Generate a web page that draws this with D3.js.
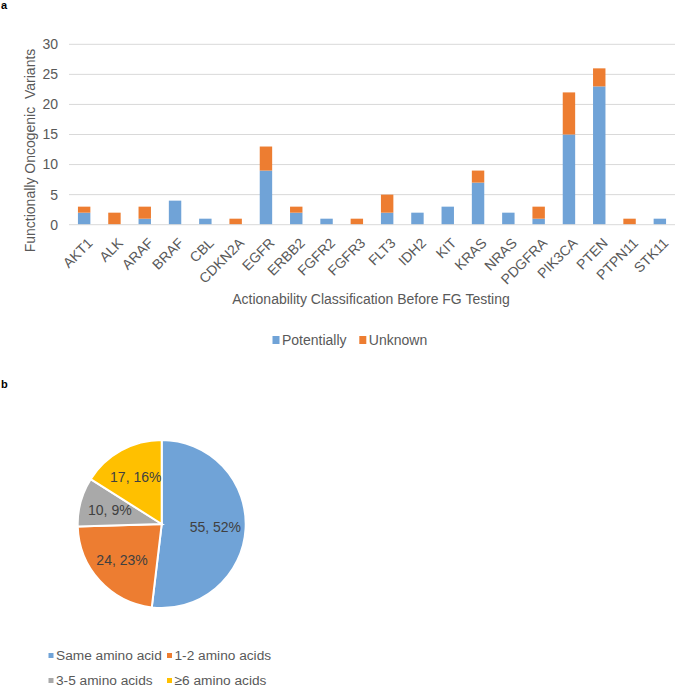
<!DOCTYPE html>
<html>
<head>
<meta charset="utf-8">
<script src="https://cdn.jsdelivr.net/npm/d3@7"></script>
<style>
  body { margin: 0; background: #fff; }
  svg { display: block; font-family: "Liberation Sans", Arial, sans-serif; }
</style>
</head>
<body>
<svg id="fig" width="675" height="687"></svg>
<script>
"use strict";

// panel a data
var genes = ["AKT1", "ALK", "ARAF", "BRAF", "CBL", "CDKN2A", "EGFR", "ERBB2", "FGFR2", "FGFR3",
  "FLT3", "IDH2", "KIT", "KRAS", "NRAS", "PDGFRA", "PIK3CA", "PTEN", "PTPN11", "STK11"];
var potentially = [2, 0, 1, 4, 1, 0, 9, 2, 1, 0, 2, 2, 3, 7, 2, 1, 15, 23, 0, 1];
var unknown = [1, 2, 2, 0, 0, 1, 4, 1, 0, 1, 3, 0, 0, 2, 0, 2, 7, 3, 1, 0];
var seriesNames = ["Potentially", "Unknown"];
var yTicks = [0, 5, 10, 15, 20, 25, 30];

// panel b data
var pieLabels = ["Same amino acid", "1-2 amino acids", "3-5 amino acids", "\u22656 amino acids"];
var pieCounts = [55, 24, 10, 17];
var piePercents = [52, 23, 9, 16];

var BLUE = "#70a3d7";
var ORANGE = "#ed7d31";
var GREY = "#a9a9a9";
var YELLOW = "#ffc000";
var TEXT = "#595959";
var FONT = 14;

var svg = d3.select("#fig");

svg.append("text").attr("x", 1).attr("y", 9)
  .attr("font-weight", "bold").attr("font-size", 11).attr("fill", "#000").text("a");
svg.append("text").attr("x", 1).attr("y", 388)
  .attr("font-weight", "bold").attr("font-size", 11).attr("fill", "#000").text("b");

drawBars();
drawPie();

function drawBars() {
  var left = 69, right = 675, top = 44.3, bottom = 224.7;
  var x = d3.scaleBand().domain(genes).range([left, right]).paddingInner(0.59).paddingOuter(0.295);
  var y = d3.scaleLinear().domain([0, 30]).range([bottom, top]);

  var rows = genes.map(function (g, i) { return { gene: g, Potentially: potentially[i], Unknown: unknown[i] }; });
  var stacked = d3.stack().keys(seriesNames)(rows);
  var colors = d3.scaleOrdinal().domain(seriesNames).range([BLUE, ORANGE]);

  // gridlines
  svg.append("g")
    .selectAll("line")
    .data(yTicks.slice(1))
    .enter()
    .append("line")
    .attr("x1", left).attr("x2", right)
    .attr("y1", function (d) { return y(d); })
    .attr("y2", function (d) { return y(d); })
    .attr("stroke", "#d9d9d9").attr("stroke-width", 1);

  svg.append("g")
    .selectAll("g")
    .data(stacked)
    .enter()
    .append("g")
    .attr("fill", function (d) { return colors(d.key); })
    .selectAll("rect")
    .data(function (d) { return d.filter(function (v) { return v[1] > v[0]; }); })
    .enter()
    .append("rect")
    .attr("x", function (d) { return x(d.data.gene); })
    .attr("width", x.bandwidth())
    .attr("y", function (d) { return y(d[1]); })
    .attr("height", function (d) { return y(d[0]) - y(d[1]); });

  // baseline
  svg.append("line")
    .attr("x1", left).attr("x2", right)
    .attr("y1", y(0)).attr("y2", y(0))
    .attr("stroke", "#d9d9d9").attr("stroke-width", 1);

  // y tick labels
  svg.append("g")
    .selectAll("text")
    .data(yTicks)
    .enter()
    .append("text")
    .attr("x", 58)
    .attr("y", function (d) { return y(d); })
    .attr("dy", "0.35em")
    .attr("text-anchor", "end")
    .attr("font-size", FONT)
    .attr("fill", TEXT)
    .text(function (d) { return d; });

  // x tick labels, rotated
  svg.append("g")
    .selectAll("text")
    .data(genes)
    .enter()
    .append("text")
    .attr("transform", function (d) {
      return "translate(" + (x(d) + x.bandwidth() / 2 + 6) + "," + 240.5 + ") rotate(-45)";
    })
    .attr("text-anchor", "end")
    .attr("dy", "0.35em")
    .attr("font-size", FONT)
    .attr("fill", TEXT)
    .text(function (d) { return d; });

  svg.append("text")
    .attr("transform", "translate(35,150.5) rotate(-90)")
    .attr("text-anchor", "middle")
    .attr("font-size", FONT)
    .attr("fill", TEXT)
    .style("white-space", "pre")
    .text("Functionally Oncogenic  Variants");

  svg.append("text")
    .attr("x", 371).attr("y", 299)
    .attr("dy", "0.35em")
    .attr("text-anchor", "middle")
    .attr("font-size", FONT)
    .attr("fill", TEXT)
    .text("Actionability Classification Before FG Testing");

  // legend
  var legend = svg.append("g")
    .selectAll("g")
    .data(seriesNames)
    .enter()
    .append("g")
    .attr("transform", function (d, i) { return "translate(" + [272.5, 359.3][i] + ",340)"; });
  legend.append("rect")
    .attr("x", 0).attr("y", -4).attr("width", 7).attr("height", 8)
    .attr("fill", function (d) { return colors(d); });
  legend.append("text")
    .attr("x", 9.5).attr("dy", "0.35em")
    .attr("font-size", FONT)
    .attr("fill", TEXT)
    .text(function (d) { return d; });
}

function drawPie() {
  var cx = 161.7, cy = 524, radius = 84;
  var colors = [BLUE, ORANGE, GREY, YELLOW];
  var pie = d3.pie().sort(null).value(function (d) { return d; });
  var arcs = pie(pieCounts);
  var arc = d3.arc().innerRadius(0).outerRadius(radius);
  var labelArc = d3.arc().innerRadius(radius * 0.64).outerRadius(radius * 0.64);

  var g = svg.append("g").attr("transform", "translate(" + cx + "," + cy + ")");
  g.selectAll("path")
    .data(arcs)
    .enter()
    .append("path")
    .attr("d", arc)
    .attr("fill", function (d, i) { return colors[i]; })
    .attr("stroke", "#fff")
    .attr("stroke-width", 2);

  g.selectAll("text")
    .data(arcs)
    .enter()
    .append("text")
    .attr("transform", function (d) { return "translate(" + labelArc.centroid(d) + ")"; })
    .attr("text-anchor", "middle")
    .attr("dy", "0.35em")
    .attr("font-size", FONT)
    .attr("fill", "#404040")
    .text(function (d, i) { return pieCounts[i] + ", " + piePercents[i] + "%"; });

  // legend, two rows
  var legend = svg.append("g")
    .selectAll("g")
    .data(pieLabels)
    .enter()
    .append("g")
    .attr("transform", function (d, i) {
      return "translate(" + (i % 2 === 0 ? 48.5 : 167) + "," + (i < 2 ? 655.5 : 680.5) + ")";
    });
  legend.append("rect")
    .attr("x", 0).attr("y", -2.5).attr("width", 5).attr("height", 5)
    .attr("fill", function (d, i) { return colors[i]; });
  legend.append("text")
    .attr("x", 7.5).attr("dy", "0.35em")
    .attr("font-size", 13.7)
    .attr("fill", TEXT)
    .text(function (d) { return d; });
}
</script>
</body>
</html>
